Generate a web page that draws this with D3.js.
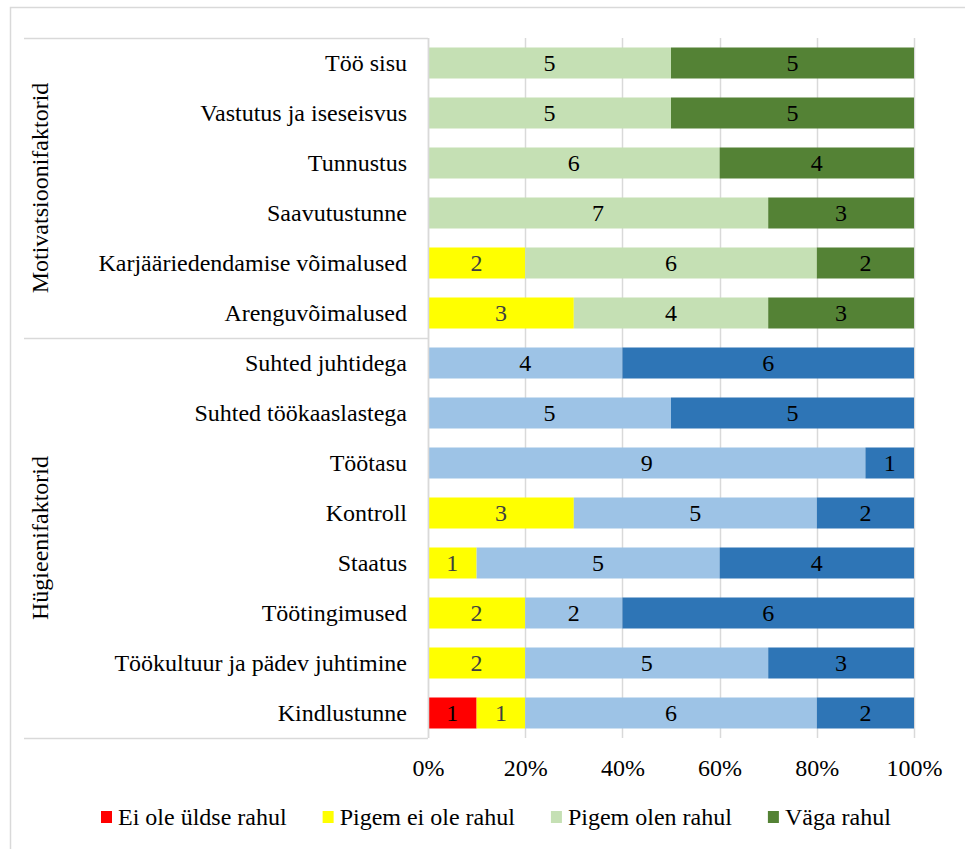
<!DOCTYPE html>
<html>
<head>
<meta charset="utf-8">
<script src="https://cdn.jsdelivr.net/npm/d3@7"></script>
<style>
  html, body { margin: 0; padding: 0; background: #fff; }
  svg { display: block; }
  text { font-family: "Liberation Serif", "Times New Roman", serif; }
</style>
</head>
<body>
<svg id="chart" width="965" height="849"></svg>
<script>
// ---- data ----
const categories = [
  "Töö sisu", "Vastutus ja iseseisvus", "Tunnustus", "Saavutustunne",
  "Karjääriedendamise võimalused", "Arenguvõimalused",
  "Suhted juhtidega", "Suhted töökaaslastega", "Töötasu", "Kontroll",
  "Staatus", "Töötingimused", "Töökultuur ja pädev juhtimine", "Kindlustunne"
];
const groupOf = [
  "Motivatsioonifaktorid", "Motivatsioonifaktorid", "Motivatsioonifaktorid",
  "Motivatsioonifaktorid", "Motivatsioonifaktorid", "Motivatsioonifaktorid",
  "Hügieenifaktorid", "Hügieenifaktorid", "Hügieenifaktorid", "Hügieenifaktorid",
  "Hügieenifaktorid", "Hügieenifaktorid", "Hügieenifaktorid", "Hügieenifaktorid"
];
const groups = ["Motivatsioonifaktorid", "Hügieenifaktorid"];
const seriesNames = ["Ei ole üldse rahul", "Pigem ei ole rahul", "Pigem olen rahul", "Väga rahul"];
const eiOleUldseRahul = [0, 0, 0, 0, 0, 0, 0, 0, 0, 0, 0, 0, 0, 1];
const pigemEiOleRahul = [0, 0, 0, 0, 2, 3, 0, 0, 0, 3, 1, 2, 2, 1];
const pigemOlenRahul  = [5, 5, 6, 7, 6, 4, 4, 5, 9, 5, 5, 2, 5, 6];
const vagaRahul       = [5, 5, 4, 3, 2, 3, 6, 5, 1, 2, 4, 6, 3, 2];
const tickValues = [0, 0.2, 0.4, 0.6, 0.8, 1.0];

// colours: per series, per group
const colorsMotivation = ["#FF0000", "#FFFF00", "#C5E0B4", "#548235"];
const colorsHygiene    = ["#FF0000", "#FFFF00", "#9DC3E6", "#2E75B6"];
const legendColors     = ["#FF0000", "#FFFF00", "#C5E0B4", "#548235"];

// ---- layout ----
const svg = d3.select("#chart");
const plotLeft = 428, plotRight = 914, plotTop = 38, plotBottom = 738;
const gridColor = "#D9D9D9";
const fontStack = '"Liberation Serif", "Times New Roman", serif';

// outer frame
svg.append("rect").attr("x", 10.5).attr("y", 7.5).attr("width", 970).attr("height", 860)
  .attr("fill", "none").attr("stroke", gridColor).attr("stroke-width", 1.5);

const x = d3.scaleLinear().domain([0, 1]).range([plotLeft, plotRight]);
const y = d3.scaleBand().domain(categories).range([plotTop, plotBottom])
  .paddingInner(0.38).paddingOuter(0.19);
const yRow = d3.scaleBand().domain(categories).range([plotTop, plotBottom]);

// gridlines
svg.append("g").selectAll("line").data(tickValues).join("line")
  .attr("x1", d => Math.round(x(d)) + 0.5).attr("x2", d => Math.round(x(d)) + 0.5)
  .attr("y1", plotTop).attr("y2", plotBottom)
  .attr("stroke", gridColor).attr("stroke-width", 1.5);

// stacked data
const table = categories.map((c, i) => ({
  cat: c, group: groupOf[i],
  vals: [eiOleUldseRahul[i], pigemEiOleRahul[i], pigemOlenRahul[i], vagaRahul[i]]
}));
const segs = [];
table.forEach(r => {
  const total = d3.sum(r.vals);
  let acc = 0;
  r.vals.forEach((v, k) => {
    if (v > 0) segs.push({ cat: r.cat, group: r.group, k, v, x0: acc / total, x1: (acc + v) / total });
    acc += v;
  });
});

const gBars = svg.append("g");
gBars.selectAll("rect").data(segs).join("rect")
  .attr("x", d => x(d.x0)).attr("width", d => x(d.x1) - x(d.x0))
  .attr("y", d => y(d.cat)).attr("height", y.bandwidth())
  .attr("fill", d => (d.group === groups[0] ? colorsMotivation : colorsHygiene)[d.k]);

gBars.selectAll("text").data(segs).join("text")
  .attr("x", d => (x(d.x0) + x(d.x1)) / 2)
  .attr("y", d => y(d.cat) + y.bandwidth() / 2)
  .attr("dy", "0.35em")
  .attr("text-anchor", "middle")
  .attr("font-size", 24)
  .attr("fill", d => d.k === 1 ? "#404040" : "#000")
  .text(d => d.v);

// category axis line
svg.append("line").attr("x1", plotLeft + 0.5).attr("x2", plotLeft + 0.5)
  .attr("y1", plotTop).attr("y2", plotBottom).attr("stroke", gridColor).attr("stroke-width", 1.5);

// category labels
svg.append("g").selectAll("text").data(categories).join("text")
  .attr("x", 407).attr("y", d => yRow(d) + yRow.bandwidth() / 2)
  .attr("dy", "0.35em").attr("text-anchor", "end")
  .attr("font-size", 24).attr("fill", "#000").text(d => d);

// group separators and labels
const groupBounds = groups.map(g => {
  const cats = categories.filter((c, i) => groupOf[i] === g);
  return { g, top: yRow(cats[0]), bottom: yRow(cats[cats.length - 1]) + yRow.bandwidth() };
});
const sepYs = [plotTop, ...groupBounds.map(b => b.bottom)];
svg.append("g").selectAll("line").data(sepYs).join("line")
  .attr("x1", 24).attr("x2", plotLeft).attr("y1", d => d + 0.5).attr("y2", d => d + 0.5)
  .attr("stroke", gridColor).attr("stroke-width", 1.5);
svg.append("g").selectAll("text").data(groupBounds).join("text")
  .attr("transform", d => `translate(40,${(d.top + d.bottom) / 2}) rotate(-90)`)
  .attr("dy", "0.35em").attr("text-anchor", "middle")
  .attr("font-size", 24).attr("fill", "#000").text(d => d.g);

// value axis
const xAxis = d3.axisBottom(x).tickValues(tickValues).tickFormat(d3.format(".0%")).tickSize(0).tickPadding(0);
const ax = svg.append("g").attr("transform", `translate(0,${plotBottom})`).call(xAxis);
ax.attr("font-family", fontStack).attr("font-size", 24);
ax.select(".domain").remove();
ax.selectAll("text").attr("y", 30).attr("dy", "0.35em")
  .attr("font-size", 24).attr("fill", "#000")
  .style("font-family", fontStack);

// legend
const lg = svg.append("g").attr("transform", "translate(101,817)");
let lx = 0;
seriesNames.forEach((name, i) => {
  lg.append("rect").attr("x", lx).attr("y", -6).attr("width", 11).attr("height", 12).attr("fill", legendColors[i]);
  const t = lg.append("text").attr("x", lx + 17).attr("y", 0).attr("dy", "0.35em")
    .attr("font-size", 24).attr("fill", "#000").text(name);
  lx += 17 + t.node().getComputedTextLength() + 36;
});
</script>
</body>
</html>
